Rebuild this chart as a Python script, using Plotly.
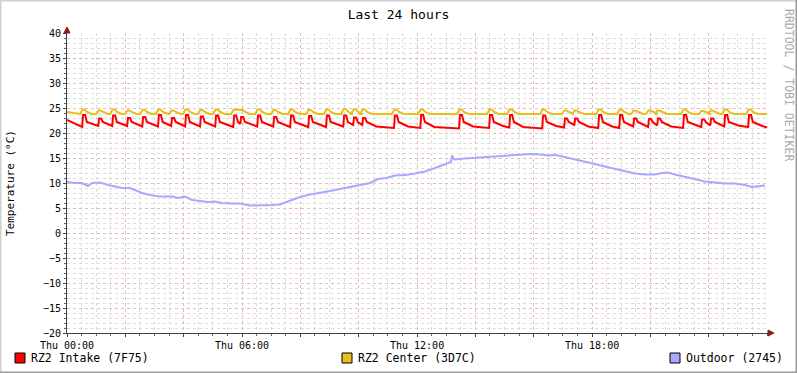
import plotly.graph_objects as go

# ---------------- data ----------------
# Hours since Thu 00:00
spike_h = [0.55, 1.10, 1.58, 2.09, 2.61, 3.15, 3.60, 4.08, 4.59, 5.11, 5.73, 5.97,
           6.55, 7.10, 7.68, 8.30, 8.91, 9.50, 9.84, 10.15, 11.24, 12.14, 13.47,
           14.50, 15.19, 16.32, 17.07, 17.42, 18.24, 18.96, 19.44, 19.95, 20.26,
           21.15, 21.77, 22.08, 22.56, 23.38]
# RZ2 Intake: peak value of each spike and value just before it
red_peak = [23.6, 22.9, 23.5, 23.0, 23.2, 23.6, 23.0, 23.6, 23.3, 23.5, 23.5, 23.2,
            23.5, 23.2, 23.5, 23.4, 23.5, 23.5, 23.1, 23.0, 23.5, 23.6, 23.6,
            23.6, 23.6, 23.5, 22.9, 22.9, 23.6, 23.6, 22.9, 22.8, 22.9,
            23.6, 22.7, 22.9, 23.6, 23.6]
red_low = [21.2, 21.4, 21.4, 21.4, 21.3, 21.3, 21.4, 21.3, 21.3, 21.3, 21.2, 21.8,
           21.3, 21.3, 21.2, 21.2, 21.2, 21.3, 21.6, 21.6, 21.0, 21.0, 20.9,
           21.0, 21.1, 20.9, 21.1, 21.6, 21.0, 21.0, 21.3, 21.2, 21.5,
           21.0, 21.2, 21.5, 21.3, 21.2]
red_drop = 22.2
red_start = 22.6
red_end = 21.1

# RZ2 Center: bump peak at each spike, baseline
yel_peak = [24.7, 24.5, 24.7, 24.5, 24.6, 24.7, 24.5, 24.7, 24.6, 24.7, 24.7, 24.6,
            24.7, 24.6, 24.7, 24.6, 24.7, 24.8, 24.7, 24.7, 24.7, 24.7, 24.7,
            24.7, 24.7, 24.7, 24.5, 24.5, 24.7, 24.7, 24.5, 24.5, 24.5,
            24.7, 24.4, 24.5, 24.7, 24.7]
yel_base = 23.8
yel_start = 24.2

# Outdoor
out_h = [0.00, 0.27, 0.51, 0.72, 0.86, 1.13, 1.41, 1.65, 1.89, 2.16, 2.33, 2.57,
         2.85, 3.19, 3.60, 3.81, 4.05, 4.29, 4.56, 4.83, 5.07, 5.31, 5.66, 5.93,
         6.27, 6.69, 7.03, 7.30, 7.64, 7.99, 8.33, 8.67, 9.02, 9.36, 9.70, 10.04,
         10.39, 10.66, 10.94, 11.24, 11.59, 11.93, 12.27, 12.62, 12.96, 13.16,
         13.20, 13.27, 13.64, 14.16, 14.67, 15.19, 15.53, 15.87, 16.22, 16.49,
         16.76, 17.07, 17.42, 17.76, 18.10, 18.44, 18.79, 19.13, 19.47, 19.82,
         20.16, 20.40, 20.60, 20.84, 21.18, 21.53, 21.87, 22.21, 22.56, 22.90,
         23.24, 23.48, 23.76, 23.93]
out_v = [10.2, 10.0, 10.0, 9.4, 10.0, 10.1, 9.6, 9.3, 9.0, 9.0, 8.6, 8.0,
         7.6, 7.3, 7.3, 7.0, 7.3, 6.6, 6.4, 6.2, 6.3, 6.0, 5.9, 5.9,
         5.5, 5.5, 5.6, 5.7, 6.5, 7.2, 7.7, 8.0, 8.4, 8.8, 9.2, 9.5,
         10.0, 10.8, 11.0, 11.5, 11.6, 11.9, 12.3, 13.0, 13.7, 14.2,
         15.5, 14.7, 14.9, 15.1, 15.2, 15.4, 15.6, 15.8, 15.7, 15.5,
         15.6, 15.2, 14.8, 14.3, 13.8, 13.3, 12.8, 12.3, 11.9, 11.7,
         11.7, 12.0, 12.1, 11.7, 11.2, 10.8, 10.3, 10.1, 9.9, 9.9,
         9.6, 9.2, 9.3, 9.5]

tick_hours = [0, 6, 12, 18]
tick_text = ["Thu 00:00", "Thu 06:00", "Thu 12:00", "Thu 18:00"]
series_names = ["RZ2 Intake (7F75)", "RZ2 Center (3D7C)", "Outdoor (2745)"]
series_colors = ["#FF0000", "#E8BE1A", "#A8A8FF"]

# ---------------- build line geometry from the read values ----------------
red_x, red_y = [0.0], [red_start]
for i, h in enumerate(spike_h):
    red_x += [h - 0.03, h, h + 0.07, h + 0.13]
    red_y += [red_low[i], red_peak[i], red_peak[i], red_drop]
    nxt = spike_h[i + 1] if i + 1 < len(spike_h) else 24.0
    if nxt - h > 0.6:
        nlow = red_low[i + 1] if i + 1 < len(red_low) else red_end
        red_x.append(h + 0.45)
        red_y.append(nlow + 0.3)
red_x.append(24.0)
red_y.append(red_end)

yel_x, yel_y = [0.0], [yel_start]
for i, h in enumerate(spike_h):
    prev = spike_h[i - 1] if i > 0 else -1
    nxt = spike_h[i + 1] if i + 1 < len(spike_h) else 25
    if h - prev > 0.3:
        yel_x.append(h - 0.1)
        yel_y.append(yel_base)
    yel_x += [h - 0.02, h + 0.05]
    yel_y += [yel_peak[i], yel_peak[i]]
    if nxt - h > 0.3:
        yel_x += [h + 0.17, h + 0.3]
        yel_y += [yel_base + 0.3, yel_base]
yel_x.append(24.0)
yel_y.append(yel_base)

fig = go.Figure()
fig.add_trace(go.Scatter(x=red_x, y=red_y, mode="lines", line=dict(color=series_colors[0], width=2),
                         name=series_names[0], showlegend=False))
fig.add_trace(go.Scatter(x=yel_x, y=yel_y, mode="lines", line=dict(color=series_colors[1], width=2),
                         name=series_names[1], showlegend=False))
fig.add_trace(go.Scatter(x=out_h, y=out_v, mode="lines", line=dict(color=series_colors[2], width=2),
                         name=series_names[2], showlegend=False))

FONT = "DejaVu Sans Mono"
MAJOR = "#EBB8B8"
MINOR = "#DCDCDC"
major_x = list(range(0, 24, 2))
fig.update_xaxes(
    range=[0, 24.03], tickvals=major_x, automargin=False,
    ticktext=[tick_text[tick_hours.index(v)] if v in tick_hours else "" for v in major_x],
    showgrid=True, gridcolor=MAJOR, griddash="dot", gridwidth=1,
    minor=dict(dtick=0.5, tick0=0, showgrid=True, gridcolor=MINOR, griddash="dot",
               ticks="outside", ticklen=2, tickcolor="#666"),
    ticks="outside", ticklen=3, tickcolor="#444",
    showline=True, linecolor="#404040", linewidth=1, zeroline=False,
    tickfont=dict(family=FONT, size=10, color="#000"),
)
fig.update_yaxes(
    range=[-20, 40], dtick=5, tick0=0, automargin=False,
    showgrid=True, gridcolor=MAJOR, griddash="dot", gridwidth=1,
    minor=dict(dtick=1, showgrid=True, gridcolor=MINOR, griddash="dot",
               ticks="outside", ticklen=2, tickcolor="#666"),
    ticks="outside", ticklen=3, tickcolor="#444",
    showline=True, linecolor="#404040", linewidth=1, zeroline=False,
    tickfont=dict(family=FONT, size=10, color="#000"),
)

shapes = []
# outer frame
L, R = -67 / 701, (797 - 67) / 701
T, B = 333 / 300, -40 / 300
shapes.append(dict(type="line", xref="paper", yref="paper", x0=L, x1=R, y0=T, y1=T, line=dict(color="#D0D0D0", width=3)))
shapes.append(dict(type="line", xref="paper", yref="paper", x0=L, x1=L, y0=B, y1=T, line=dict(color="#D0D0D0", width=3)))
shapes.append(dict(type="line", xref="paper", yref="paper", x0=L, x1=R, y0=B, y1=B, line=dict(color="#9A9A9A", width=3)))
shapes.append(dict(type="line", xref="paper", yref="paper", x0=R, x1=R, y0=B, y1=T, line=dict(color="#9A9A9A", width=3)))
# axis arrows
shapes.append(dict(type="path", xref="paper", yref="paper", xsizemode="pixel", ysizemode="pixel",
                   xanchor=1, yanchor=0, path="M 0 3 L 6 0 L 0 -3 Z",
                   fillcolor="#8B1A1A", line=dict(color="#8B1A1A", width=1)))
shapes.append(dict(type="path", xref="paper", yref="paper", xsizemode="pixel", ysizemode="pixel",
                   xanchor=0, yanchor=1, path="M -3 0 L 0 6 L 3 0 Z",
                   fillcolor="#8B1A1A", line=dict(color="#8B1A1A", width=1)))

annotations = []
# legend
leg_px = [15, 342, 670]
for px, name, col in zip(leg_px, series_names, series_colors):
    x0 = (px - 67) / 701
    x1 = (px + 10 - 67) / 701
    y0 = (333 - 363) / 300
    y1 = (333 - 353) / 300
    shapes.append(dict(type="rect", xref="paper", yref="paper", x0=x0, x1=x1, y0=y0, y1=y1,
                       fillcolor=col, line=dict(color="#000", width=1)))
    annotations.append(dict(text=name, xref="paper", yref="paper", x=(px + 14 - 67) / 701,
                            y=(333 - 358) / 300, xanchor="left", yanchor="middle", showarrow=False,
                            font=dict(family=FONT, size=11.5, color="#000")))
# y axis title
annotations.append(dict(text="Temperature (°C)", xref="paper", yref="paper",
                        x=(10 - 67) / 701, y=(333 - 183) / 300, xanchor="center", yanchor="middle",
                        textangle=-90, showarrow=False,
                        font=dict(family=FONT, size=11, color="#000")))
# watermark
annotations.append(dict(text="RRDTOOL / TOBI OETIKER", xref="paper", yref="paper",
                        x=(789 - 67) / 701, y=(333 - 7) / 300, xanchor="center", yanchor="top",
                        textangle=90, showarrow=False,
                        font=dict(family=FONT, size=11.5, color="#AAAAAA")))

fig.update_layout(
    width=797, height=373,
    margin=dict(l=67, r=29, t=33, b=40, autoexpand=False),
    paper_bgcolor="#FFFFFF", plot_bgcolor="#FFFFFF",
    title=dict(text="Last 24 hours", x=0.5, xref="container", xanchor="center",
               y=1 - 14 / 373, yref="container", yanchor="middle",
               font=dict(family=FONT, size=13, color="#000")),
    shapes=shapes, annotations=annotations,
    showlegend=False,
)

fig.write_html("out.html", config={"displayModeBar": False},
               post_script="document.body.style.margin='0';document.body.style.padding='0';document.body.style.overflow='hidden';")
